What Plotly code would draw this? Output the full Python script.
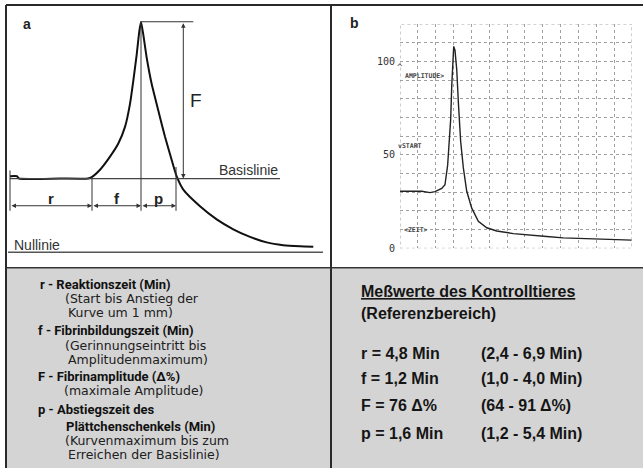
import plotly.graph_objects as go

W, H = 643, 473

# ---------------- Panel a: schematic thromboelastogram ----------------
a_time = [0, 0.7, 0.9, 5.0, 7.8, 8.17, 9.0, 10.0, 10.83, 11.5, 12.0, 12.33, 12.67, 12.93, 13.1,
          13.33, 13.67, 14.17, 14.83, 15.5, 16.17, 16.67, 17.33, 19.0, 20.67, 22.33, 24.0,
          25.67, 27.33, 29.0, 30.33]
a_amp = [33.0, 33.0, 32.0, 32.0, 32.0, 32.6, 35.8, 41.5, 47.2, 54.4, 64.4, 74.4, 85.8, 95.8, 100.0,
         94.4, 84.4, 73.0, 61.5, 50.1, 40.0, 32.9, 27.2, 20.0, 14.3, 10.0, 6.7,
         4.3, 3.1, 2.6, 2.4]
a_baseline = 32.0
a_peak = 100.0
a_phase_bounds = [0.0, 8.2, 13.1, 16.6]     # start, rise, maximum, back at baseline
a_phase_labels = ["r", "f", "p"]
a_F_pos = 17.33
a_baseline_end = 27.0

# ---------------- Panel b: recorded curve ----------------
b_time = [0, 1.22, 1.68, 1.96, 2.34, 2.52, 2.67, 2.76, 2.84, 2.90, 2.95, 3.01, 3.08, 3.18, 3.27,
          3.40, 3.55, 3.74, 4.02, 4.39, 4.86, 5.42, 6.35, 7.28, 8.22, 9.15, 10.08, 11.02, 11.95, 12.98]
b_amp = [30.5, 30.5, 29.8, 30.3, 32.0, 34.0, 44.5, 55.0, 69.0, 87.0, 101.0, 108.0, 106.0, 95.5, 78.0,
         57.0, 43.0, 30.5, 21.5, 14.5, 11.0, 9.3, 7.9, 7.0, 6.3, 5.6, 5.3, 4.9, 4.6, 4.4]
b_ytick_vals = [0, 50, 100]
b_ytick_text = ["0", "50", "100"]

# ---------------- Text panels ----------------
legend_lines = [
    ("r - Reaktionszeit (Min)", True),
    ("(Start bis Anstieg der", False),
    ("Kurve um 1 mm)", False),
    ("f - Fibrinbildungszeit (Min)", True),
    ("(Gerinnungseintritt bis", False),
    ("Amplitudenmaximum)", False),
    ("F - Fibrinamplitude (\u0394%)", True),
    ("(maximale Amplitude)", False),
    ("p - Abstiegszeit des", True),
    ("Plättchenschenkels (Min)", True),
    ("(Kurvenmaximum bis zum", False),
    ("Erreichen der Basislinie)", False),
]
ref_title = "Meßwerte des Kontrolltieres"
ref_subtitle = "(Referenzbereich)"
ref_values = ["r = 4,8 Min", "f = 1,2 Min", "F = 76 \u0394%", "p = 1,6 Min"]
ref_ranges = ["(2,4 - 6,9 Min)", "(1,0 - 4,0 Min)", "(64 - 91 \u0394%)", "(1,2 - 5,4 Min)"]


def px(x):
    return x / W


def py(y):
    return 1 - y / H


fig = go.Figure()

# panel a curve
fig.add_trace(go.Scatter(x=a_time, y=a_amp, xaxis="x2", yaxis="y2", mode="lines",
                         line=dict(color="#111111", width=2, shape="spline", smoothing=0.5),
                         hoverinfo="skip", showlegend=False))
# panel b curve
fig.add_trace(go.Scatter(x=b_time, y=b_amp, xaxis="x3", yaxis="y3", mode="lines",
                         line=dict(color="#222222", width=1.4),
                         hoverinfo="skip", showlegend=False))

shapes = []
annotations = []

# frame / backgrounds
shapes.append(dict(type="rect", xref="paper", yref="paper", x0=px(7), x1=px(643), y0=py(473), y1=py(271),
                   fillcolor="#d4d4d4", line=dict(width=0), layer="below"))
frame = dict(color="#2a2a2a", width=2)
shapes.append(dict(type="line", xref="paper", yref="paper", x0=px(6), x1=px(643), y0=py(5), y1=py(5), line=frame))
shapes.append(dict(type="line", xref="paper", yref="paper", x0=px(6), x1=px(6), y0=py(5), y1=py(473), line=frame))
shapes.append(dict(type="line", xref="paper", yref="paper", x0=px(331), x1=px(331), y0=py(5), y1=py(473), line=frame))
shapes.append(dict(type="line", xref="paper", yref="paper", x0=px(6), x1=px(643), y0=py(270.5), y1=py(270.5),
                   line=dict(color="#333333", width=1.5)))

# ---- panel a decorations ----
ax_a = dict(xref="x2", yref="y2")
thin = dict(color="#333333", width=1)
# Nullinie and Basislinie
shapes.append(dict(type="line", **ax_a, x0=-0.2, x1=31.3, y0=0, y1=0, line=dict(color="#555555", width=1.5)))
shapes.append(dict(type="line", **ax_a, x0=a_phase_bounds[0], x1=a_baseline_end, y0=a_baseline, y1=a_baseline,
                   line=dict(color="#444444", width=1.2)))
# vertical markers
tick_bottom = 18.0
arrow_level = 20.2
shapes.append(dict(type="line", **ax_a, x0=a_phase_bounds[0], x1=a_phase_bounds[0], y0=tick_bottom, y1=a_baseline + 3.5, line=thin))
shapes.append(dict(type="line", **ax_a, x0=a_phase_bounds[1], x1=a_phase_bounds[1], y0=tick_bottom, y1=a_baseline + 0.5, line=thin))
shapes.append(dict(type="line", **ax_a, x0=a_phase_bounds[2], x1=a_phase_bounds[2], y0=tick_bottom, y1=a_peak, line=thin))
shapes.append(dict(type="line", **ax_a, x0=a_phase_bounds[3], x1=a_phase_bounds[3], y0=tick_bottom, y1=a_baseline + 5, line=thin))
# top line for F
shapes.append(dict(type="line", **ax_a, x0=a_phase_bounds[2], x1=a_F_pos + 1.0, y0=a_peak, y1=a_peak, line=thin))

for i, lab in enumerate(a_phase_labels):
    x0, x1 = a_phase_bounds[i], a_phase_bounds[i + 1]
    annotations.append(dict(**ax_a, x=x1, y=arrow_level, ax=x0, ay=arrow_level, axref="x2", ayref="y2",
                            text="", showarrow=True, arrowside="end+start", arrowhead=2,
                            arrowsize=0.9, arrowwidth=1, arrowcolor="#333333", standoff=0, startstandoff=0))
    annotations.append(dict(**ax_a, x=(x0 + x1) / 2, y=arrow_level + 3.2, text="<b>%s</b>" % lab, showarrow=False,
                            font=dict(family="Liberation Sans, Arial", size=15, color="#222222")))
# F arrow
annotations.append(dict(**ax_a, x=a_F_pos, y=a_baseline, ax=a_F_pos, ay=a_peak, axref="x2", ayref="y2",
                        text="", showarrow=True, arrowside="end+start", arrowhead=2,
                        arrowsize=0.9, arrowwidth=1, arrowcolor="#333333", standoff=0, startstandoff=0))
annotations.append(dict(**ax_a, x=a_F_pos + 0.5, y=66, text="F", showarrow=False, xanchor="left",
                        font=dict(family="Liberation Sans, Arial", size=19, color="#222222")))
annotations.append(dict(**ax_a, x=a_baseline_end - 3.2, y=a_baseline + 3.5, text="Basislinie", showarrow=False,
                        font=dict(family="Liberation Sans, Arial", size=14, color="#333333")))
annotations.append(dict(**ax_a, x=0.2, y=3.2, text="Nullinie", showarrow=False, xanchor="left",
                        font=dict(family="Liberation Sans, Arial", size=14, color="#333333")))
annotations.append(dict(xref="paper", yref="paper", x=px(26.5), y=py(24), text="<b>a</b>", showarrow=False,
                        xanchor="center", yanchor="middle",
                        font=dict(family="Liberation Sans, Arial", size=14, color="#222222")))
annotations.append(dict(xref="paper", yref="paper", x=px(354), y=py(23.5), text="<b>b</b>", showarrow=False,
                        xanchor="center", yanchor="middle",
                        font=dict(family="Liberation Sans, Arial", size=14, color="#222222")))

# ---- panel b decorations ----
ax_b = dict(xref="x3", yref="y3")
shapes.append(dict(type="rect", **ax_b, x0=0, x1=13, y0=0, y1=120, line=dict(color="#9a9a9a", width=1, dash="dot")))
mono = "DejaVu Sans Mono, Liberation Mono, monospace"
annotations.append(dict(**ax_b, x=0, y=100, text="^", showarrow=False, yshift=-6, xanchor="center",
                        font=dict(family=mono, size=9, color="#444444")))
annotations.append(dict(**ax_b, x=0.15, y=92, text="<b>AMPLITUDE></b>", showarrow=False, xanchor="left",
                        font=dict(family=mono, size=6.5, color="#444444")))
annotations.append(dict(**ax_b, x=0, y=54.5, text="<b>vSTART</b>", showarrow=False, xanchor="left", xshift=-4,
                        font=dict(family=mono, size=6.5, color="#444444")))
annotations.append(dict(**ax_b, x=0.1, y=10, text="<b><ZEIT></b>", showarrow=False, xanchor="left",
                        font=dict(family=mono, size=6.5, color="#444444")))

# ---- text panels ----
left_y = [288, 302, 316, 334, 349, 363, 381, 395, 414, 431.5, 445.5, 459.5]
left_x = [38, 63, 66, 36, 63, 66, 36, 62, 36, 64, 63, 66]
for (txt, bold), yy, xx in zip(legend_lines, left_y, left_x):
    if bold:
        t = "<b>%s</b>" % txt
        f = dict(family="Roboto, Liberation Sans", size=13, color="#111111")
    else:
        t = txt
        f = dict(family="DejaVu Sans, Liberation Sans", size=12.5, color="#202020")
    annotations.append(dict(xref="paper", yref="paper", x=px(xx), y=py(yy), text=t, showarrow=False,
                            xanchor="left", yanchor="middle", font=f))

rf = dict(family="Liberation Sans, Arial", size=16, color="#151515")
annotations.append(dict(xref="paper", yref="paper", x=px(359), y=py(295), text="<b><u>%s</u></b>" % ref_title,
                        showarrow=False, xanchor="left", yanchor="middle", font=rf))
annotations.append(dict(xref="paper", yref="paper", x=px(359), y=py(317), text="<b>%s</b>" % ref_subtitle,
                        showarrow=False, xanchor="left", yanchor="middle", font=rf))
for v, r, yy in zip(ref_values, ref_ranges, [357, 383, 410, 438]):
    annotations.append(dict(xref="paper", yref="paper", x=px(359), y=py(yy), text="<b>%s</b>" % v,
                            showarrow=False, xanchor="left", yanchor="middle", font=rf))
    annotations.append(dict(xref="paper", yref="paper", x=px(479), y=py(yy), text="<b>%s</b>" % r,
                            showarrow=False, xanchor="left", yanchor="middle", font=rf))

hidden = dict(visible=False, fixedrange=True)
fig.update_layout(
    width=W, height=H, margin=dict(l=0, r=0, t=0, b=0),
    paper_bgcolor="white", plot_bgcolor="rgba(0,0,0,0)", showlegend=False,
    xaxis=dict(visible=False, domain=[0, 1]), yaxis=dict(visible=False, domain=[0, 1]),
    xaxis2=dict(hidden, domain=[px(4), px(324)], range=[-0.6, 31.4], anchor="y2"),
    yaxis2=dict(hidden, domain=[py(262), py(15)], range=[-3.0, 103.0], anchor="x2"),
    xaxis3=dict(domain=[px(400), px(632)], range=[0, 13], anchor="y3", showticklabels=False, ticks="",
                dtick=1, showgrid=True, gridcolor="#a0a0a0", griddash="dot", gridwidth=1,
                zeroline=False, showline=False, fixedrange=True),
    yaxis3=dict(domain=[py(251), py(24.2)], range=[0, 120], anchor="x3", tickvals=b_ytick_vals,
                ticktext=b_ytick_text, ticks="", showgrid=True, gridcolor="#a0a0a0", griddash="dot",
                minor=dict(dtick=10, showgrid=True, gridcolor="#a0a0a0", griddash="dot"),
                zeroline=False, showline=False, fixedrange=True, ticklabelstandoff=4,
                tickfont=dict(family=mono, size=10, color="#333333")),
    shapes=shapes, annotations=annotations,
)

fig.write_html("out.html", config={"displayModeBar": False},
               post_script="document.body.style.margin='0';")
